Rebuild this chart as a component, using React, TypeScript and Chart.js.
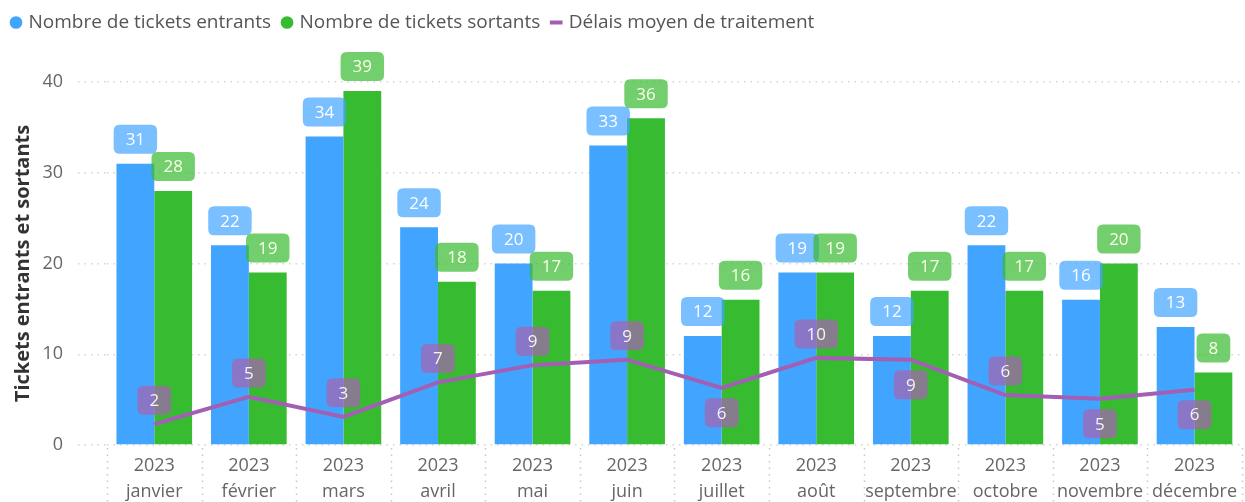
import React, { useEffect, useRef } from 'react';
import { Chart, registerables } from 'chart.js';

Chart.register(...registerables);

const year = '2023';
const months = ['janvier', 'février', 'mars', 'avril', 'mai', 'juin', 'juillet', 'août', 'septembre', 'octobre', 'novembre', 'décembre'];
const entrants = [31, 22, 34, 24, 20, 33, 12, 19, 12, 22, 16, 13];
const sortants = [28, 19, 39, 18, 17, 36, 16, 19, 17, 17, 20, 8];
const delais = [2.3, 5.3, 3.1, 6.9, 8.8, 9.4, 6.3, 9.6, 9.4, 5.5, 5.1, 6.1];
const yMin = 0;
const yMax = 40;
const yStep = 10;

// label placement for the line's data labels (style, not data)
const delaisLabelSide = ['above', 'above', 'above', 'above', 'above', 'above', 'below', 'above', 'below', 'above', 'below', 'below'];

const FONT = '"Open Sans", "Noto Sans", sans-serif';
const BLUE = '#41a4ff';
const GREEN = '#37bb31';
const PURPLE = '#a25fb4';

function roundRect(ctx: CanvasRenderingContext2D, x: number, y: number, w: number, h: number, r: number) {
  ctx.beginPath();
  ctx.moveTo(x + r, y);
  ctx.lineTo(x + w - r, y);
  ctx.quadraticCurveTo(x + w, y, x + w, y + r);
  ctx.lineTo(x + w, y + h - r);
  ctx.quadraticCurveTo(x + w, y + h, x + w - r, y + h);
  ctx.lineTo(x + r, y + h);
  ctx.quadraticCurveTo(x, y + h, x, y + h - r);
  ctx.lineTo(x, y + r);
  ctx.quadraticCurveTo(x, y, x + r, y);
  ctx.closePath();
}

function drawLabel(ctx: CanvasRenderingContext2D, text: string, cx: number, cy: number, bg: string, fg: string) {
  ctx.font = `17px ${FONT}`;
  const tw = ctx.measureText(text).width;
  const w = tw + 24;
  const h = 29;
  roundRect(ctx, cx - w / 2, cy - h / 2, w, h, 6);
  ctx.fillStyle = bg;
  ctx.fill();
  ctx.fillStyle = fg;
  ctx.textAlign = 'center';
  ctx.textBaseline = 'middle';
  ctx.fillText(text, cx, cy + 1);
}

const dataLabelsPlugin = {
  id: 'customDataLabels',
  afterDatasetsDraw(chart: any) {
    const ctx = chart.ctx as CanvasRenderingContext2D;
    ctx.save();
    const specs = [
      { idx: 0, bg: 'rgba(65,164,255,0.7)', fg: '#ffffff' },
      { idx: 1, bg: 'rgba(55,187,49,0.7)', fg: '#fbffe8' },
    ];
    specs.forEach((s) => {
      const meta = chart.getDatasetMeta(s.idx);
      const vals = chart.data.datasets[s.idx].data as number[];
      meta.data.forEach((el: any, i: number) => {
        drawLabel(ctx, String(Math.round(vals[i])), el.x, el.y - 10 - 14.5, s.bg, s.fg);
      });
    });
    const lmeta = chart.getDatasetMeta(2);
    const lvals = chart.data.datasets[2].data as number[];
    lmeta.data.forEach((el: any, i: number) => {
      const dy = delaisLabelSide[i] === 'below' ? 25 : -24;
      drawLabel(ctx, String(Math.round(lvals[i])), el.x, el.y + dy, 'rgba(166,100,178,0.72)', '#f4f4f4');
    });
    ctx.restore();
  },
};

const separatorsPlugin = {
  id: 'categorySeparators',
  afterDraw(chart: any) {
    const ctx = chart.ctx as CanvasRenderingContext2D;
    const xs = chart.scales.x;
    const n = chart.data.labels.length;
    const step = (xs.right - xs.left) / n;
    ctx.save();
    ctx.strokeStyle = '#c8c8c8';
    ctx.lineWidth = 1.5;
    ctx.setLineDash([1.5, 5]);
    for (let i = 0; i <= n; i++) {
      const x = Math.round(xs.left + i * step) + 0.5;
      ctx.beginPath();
      ctx.moveTo(x, chart.chartArea.bottom + 3);
      ctx.lineTo(x, chart.height);
      ctx.stroke();
    }
    ctx.restore();
  },
};

const legendHeightPlugin = {
  id: 'legendHeight',
  beforeInit(chart: any) {
    const legend = chart.legend;
    if (!legend) return;
    const orig = legend.fit;
    legend.fit = function () {
      orig.call(this);
      this.height = 82;
    };
  },
};

export default function App() {
  const ref = useRef<HTMLCanvasElement | null>(null);
  useEffect(() => {
    document.body.style.margin = '0';
    if (!ref.current) return;
    const labels = months.map((m) => [year, m]);
    const chart = new Chart(ref.current, {
      type: 'bar',
      data: {
        labels,
        datasets: [
          {
            type: 'bar',
            label: 'Nombre de tickets entrants',
            data: entrants,
            backgroundColor: BLUE,
            borderWidth: 0,
            categoryPercentage: 0.8,
            barPercentage: 1.0,
            order: 2,
          },
          {
            type: 'bar',
            label: 'Nombre de tickets sortants',
            data: sortants,
            backgroundColor: GREEN,
            borderWidth: 0,
            categoryPercentage: 0.8,
            barPercentage: 1.0,
            order: 2,
          },
          {
            type: 'line',
            label: 'Délais moyen de traitement',
            data: delais,
            borderColor: PURPLE,
            backgroundColor: PURPLE,
            borderWidth: 4,
            pointRadius: 0,
            pointStyle: 'line',
            tension: 0,
            order: 1,
          } as any,
        ],
      },
      options: {
        responsive: false,
        animation: false,
        layout: { padding: { left: 0, right: 0, top: 0, bottom: 0 } },
        plugins: {
          legend: {
            display: true,
            position: 'top',
            align: 'start',
            labels: {
              usePointStyle: true,
              boxWidth: 6,
              boxHeight: 9,
              padding: 13,
              color: '#555555',
              font: { family: FONT, size: 19 },
              sort: (a: any, b: any) => a.datasetIndex - b.datasetIndex,
            },
          },
          tooltip: { enabled: false },
        },
        scales: {
          x: {
            offset: true,
            afterFit(scale: any) {
              scale.height = 57;
            },
            grid: { display: false, drawTicks: false },
            border: { display: false },
            ticks: {
              color: '#666666',
              padding: 8,
              font: { family: FONT, size: 18, lineHeight: 1.45 },
              maxRotation: 0,
              autoSkip: false,
            },
          },
          y: {
            min: yMin,
            max: yMax,
            afterFit(scale: any) {
              scale.width = 107;
            },
            ticks: {
              stepSize: yStep,
              color: '#666666',
              padding: 15,
              font: { family: FONT, size: 18 },
            },
            grid: {
              color: '#d4d4d4',
              lineWidth: 1.5,
              tickLength: 29,
              tickColor: '#d4d4d4',
              tickBorderDash: [1.5, 5],
            },
            border: { display: false, dash: [1.5, 5] },
            title: {
              display: true,
              text: 'Tickets entrants et sortants',
              color: '#333333',
              font: { family: FONT, size: 20, weight: 'bold' },
              padding: { top: 11, bottom: 0 },
            },
          },
        },
      },
      plugins: [legendHeightPlugin, separatorsPlugin, dataLabelsPlugin],
    } as any);
    return () => chart.destroy();
  }, []);
  return <canvas ref={ref} width={1245} height={502} style={{ display: 'block' }} />;
}
